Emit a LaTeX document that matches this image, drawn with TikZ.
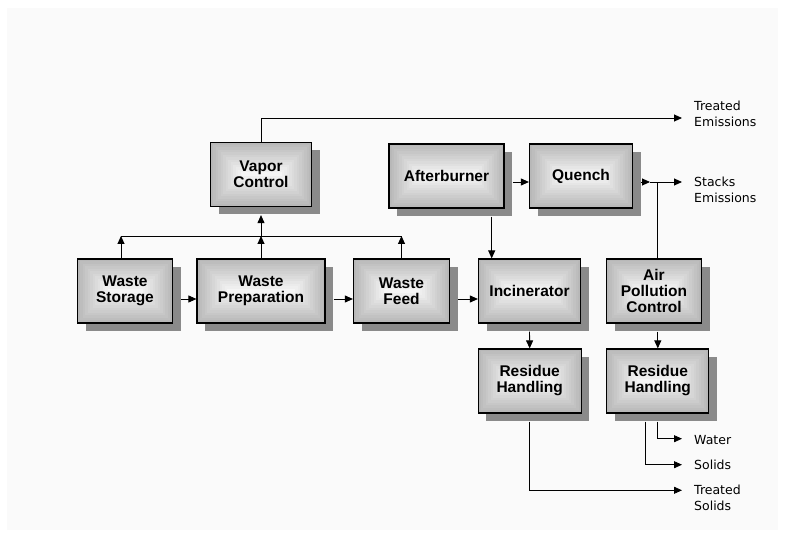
\documentclass[tikz,border=0pt]{standalone}
\usepackage{fontspec}
\setmainfont{Liberation Sans}
\newfontfamily\labelfont{DejaVu Sans}
\usetikzlibrary{shadows,arrows.meta,calc}
\definecolor{bgin}{RGB}{250,250,250}
\definecolor{boxedge}{RGB}{184,184,184}
\definecolor{boxcenter}{RGB}{245,245,245}
\definecolor{shadowgray}{RGB}{138,138,138}
\tikzset{
  blk/.style={draw=black, line width=1.2pt, minimum height=64pt, inner sep=0pt,
    align=center, font=\fontsize{15.5}{16}\selectfont\bfseries,
    general shadow={fill=shadowgray, draw=none, shadow xshift=8pt, shadow yshift=-8pt},
    path picture={
      \foreach \k in {0,...,12}{
        \pgfmathtruncatemacro\p{\k*100/12}
        \fill[boxcenter!\p!boxedge]
          ($(path picture bounding box.north west)+(\k*2.5pt,-\k*2.5pt)$) rectangle
          ($(path picture bounding box.south east)+(-\k*2.5pt,\k*2.5pt)$);
      }
    }},
  conn/.style={draw=black, line width=0.9pt},
  arr/.style={conn, -{Triangle[length=8pt,width=7pt]}},
  lbl/.style={anchor=west, inner sep=0pt, align=left, font=\labelfont\fontsize{12.5}{16}\selectfont}
}
\begin{document}
\begin{tikzpicture}[x=1pt,y=-1pt]
\useasboundingbox (0,0) rectangle (785,537);
\fill[bgin] (7,8) rectangle (778,530);

% boxes
\node[blk, minimum width=101pt] (vapor) at (261,174.5) {Vapor\\Control};
\node[blk, minimum width=115pt] (ab) at (446.5,176) {Afterburner};
\node[blk, minimum width=103pt] (q) at (581,176) {Quench};
\node[blk, minimum width=95pt] (ws) at (125,291) {Waste\\Storage};
\node[blk, minimum width=128pt] (wp) at (261,291) {Waste\\Preparation};
\node[blk, minimum width=96pt] (wf) at (401.5,291) {Waste\\Feed};
\node[blk, minimum width=102pt] (inc) at (529.5,291) {Incinerator};
\node[blk, minimum width=95pt] (apc) at (654,291) {Air\\Pollution\\Control};
\node[blk, minimum width=103pt] (res1) at (529.7,381) {Residue\\Handling};
\node[blk, minimum width=102pt] (res2) at (657.8,381) {Residue\\Handling};

% labels
\node[lbl] (tel) at (694,114) {Treated\\Emissions};
\node[lbl] (sel) at (694,190) {Stacks\\Emissions};
\node[lbl] (wl) at (694,440) {Water};
\node[lbl] (sl) at (694,465) {Solids};
\node[lbl] (tsl) at (694,498) {Treated\\Solids};

% free ends
\coordinate (te) at (682,118);
\coordinate (stk) at (682,182);
\coordinate (qa) at (650,182);
\coordinate (junc) at (657.8,182);
\coordinate (wat) at (682,438.7);
\coordinate (sol) at (682,464.7);
\coordinate (ts) at (682,490.3);
\coordinate (busL) at (121,236);
\coordinate (busR) at (401.5,236);

% bus to vapor control
\draw[conn] (busL) -- (busR);
\draw[arr] ([xshift=-4pt]ws.north) -- (busL);
\draw[arr] (wp.north) -- (wp.north |- busL);
\draw[arr] (wf.north) -- (busR);
\draw[arr] (vapor.south |- busL) -- ([yshift=-8pt]vapor.south);
\draw[arr] (vapor.north) |- (te);

% main line
\draw[arr] ([shift={(8pt,-8pt)}]ws.east) -- ([yshift=-8pt]wp.west);
\draw[arr] ([shift={(8pt,-8pt)}]wp.east) -- ([yshift=-8pt]wf.west);
\draw[arr] ([shift={(8pt,-8pt)}]wf.east) -- ([yshift=-8pt]inc.west);

% afterburner / quench
\draw[arr] ([shift={(8pt,-6pt)}]ab.east) -- ([yshift=-6pt]q.west);
\draw[arr] ([shift={(45.2pt,-8pt)}]ab.south) -- ([xshift=-37.8pt]inc.north);
\draw[arr] ([shift={(8pt,-6pt)}]q.east) -- (qa);
\draw[arr] (qa) -- (stk);
\draw[conn] ([xshift=3.8pt]apc.north) -- (junc);

% residue
\draw[arr] ([yshift=-8pt]inc.south) -- (res1.north);
\draw[arr] ([shift={(3.8pt,-8pt)}]apc.south) -- (res2.north);
\draw[arr] ([yshift=-8pt]res1.south) |- (ts);
\draw[arr] ([yshift=-8pt]res2.south) |- (wat);
\draw[arr] ([shift={(-12.8pt,-8pt)}]res2.south) |- (sol);
\end{tikzpicture}
\end{document}
